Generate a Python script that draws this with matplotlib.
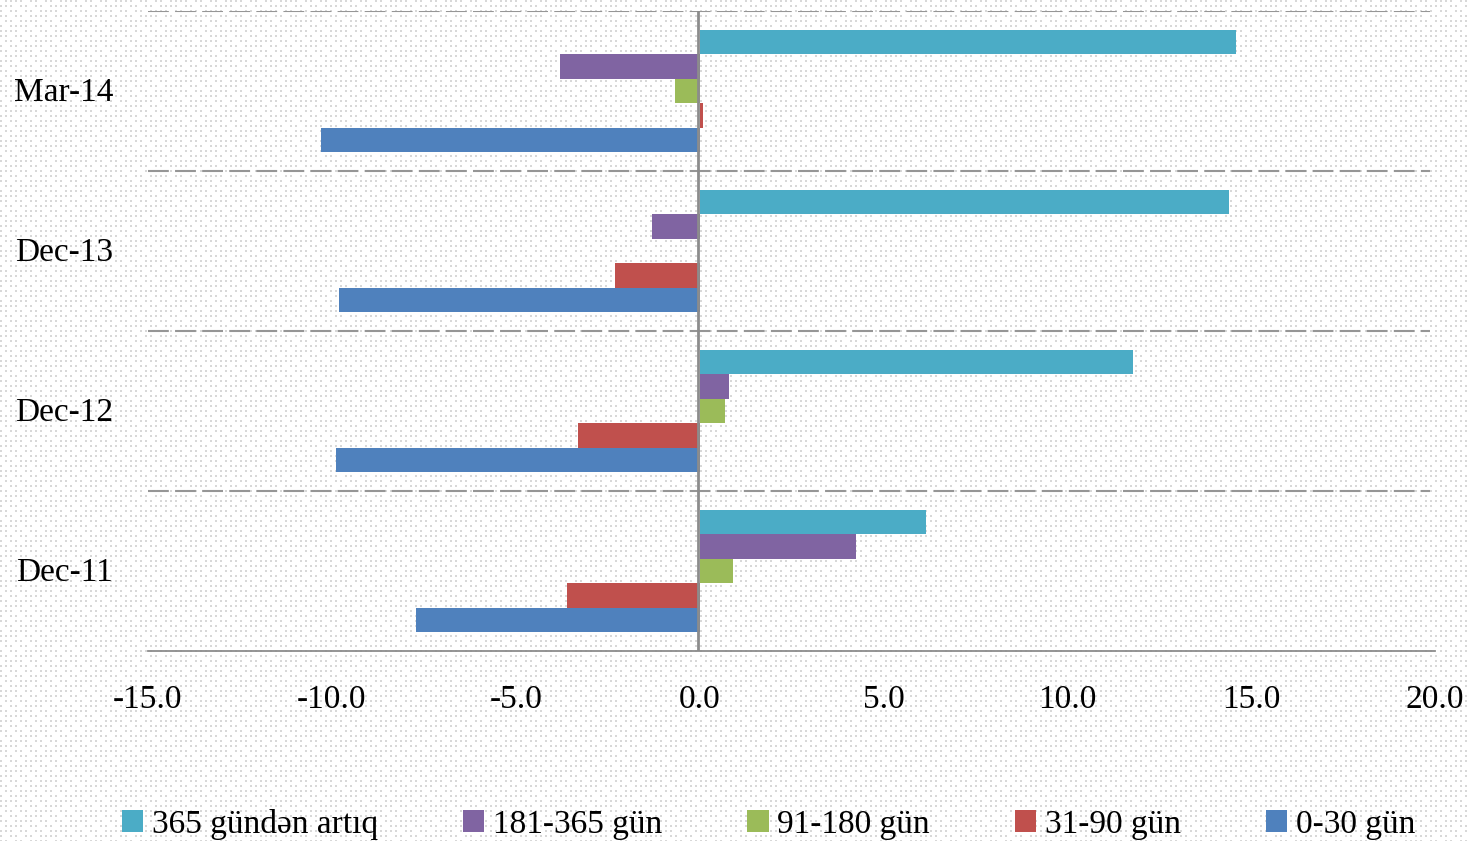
import numpy as np
import matplotlib
matplotlib.use("Agg")
import matplotlib.pyplot as plt
from matplotlib.patches import Patch

categories = ["Dec-11", "Dec-12", "Dec-13", "Mar-14"]
series_names = ["0-30 gün", "31-90 gün", "91-180 gün", "181-365 gün", "365 gündən artıq"]
series_values = {
    "0-30 gün":        [-7.7, -9.9, -9.8, -10.3],
    "31-90 gün":       [-3.6, -3.3, -2.3, 0.1],
    "91-180 gün":      [0.92, 0.7, 0.0, -0.68],
    "181-365 gün":     [4.25, 0.8, -1.3, -3.8],
    "365 gündən artıq": [6.15, 11.8, 14.4, 14.6],
}
colors = ["#4F81BD", "#C0504D", "#9BBB59", "#8064A2", "#4BACC6"]
xticks = [-15, -10, -5, 0, 5, 10, 15, 20]
xtick_labels = ["-15.0", "-10.0", "-5.0", "0.0", "5.0", "10.0", "15.0", "20.0"]

plt.rcParams['font.family'] = ['Liberation Serif', 'DejaVu Serif']
FS = 24

W, H = 1469, 841
fig = plt.figure(figsize=(W / 100, H / 100), dpi=100)

# dotted background pattern
bg = np.ones((H, W, 3))
yy, xx = np.mgrid[0:H, 0:W]
dots = ((xx % 5) < 2) & ((yy % 5) < 2)
skip = (((xx // 5) * 7 + (yy // 5) * 3) % 11) < 3
dots = dots & ~skip
bg[dots] = 0.85
fig.figimage(bg, 0, 0, zorder=-10)

ax = fig.add_axes([148 / W, 1 - 651 / H, (1435 - 148) / W, (651 - 11) / H])
ax.set_zorder(5)
ax.patch.set_alpha(0)

n = len(series_names)
bh = 0.153
y = np.arange(len(categories))
for i, name in enumerate(series_names):
    off = (i - (n - 1) / 2) * bh
    ax.barh(y + off, series_values[name], height=bh, color=colors[i], zorder=3)

ax.set_xlim(-15, 20)
ax.set_ylim(-0.5, len(categories) - 0.5)
ax.set_xticks(xticks)
ax.set_xticklabels(xtick_labels, fontsize=FS)
ax.set_yticks(y + 0.01)
ax.set_yticklabels(categories, fontsize=FS)
ax.tick_params(axis='both', length=0)
ax.tick_params(axis='x', pad=24)
ax.tick_params(axis='y', pad=25)

for s in ["top", "right", "left"]:
    ax.spines[s].set_visible(False)
ax.spines["bottom"].set_color("#8c8c8c")
ax.spines["bottom"].set_linewidth(1.3)

for g in np.arange(0.5, len(categories), 1.0):
    ax.axhline(g, xmax=0.996, color="#969696", lw=1.5, ls=(0, (10, 3)), zorder=1)
ax.axvline(-0.03, color="#8c8c8c", lw=2, zorder=4)

handles = [Patch(facecolor=colors[i]) for i in range(n - 1, -1, -1)]
labels = [series_names[i] for i in range(n - 1, -1, -1)]
leg = fig.legend(handles, labels, loc="center", bbox_to_anchor=(0.523, 1 - 824 / H),
                 ncol=5, frameon=False, fontsize=FS, handlelength=0.65, handleheight=0.65,
                 handletextpad=0.25, columnspacing=2.55)
leg.set_zorder(6)

fig.savefig("out.png", dpi=100)
